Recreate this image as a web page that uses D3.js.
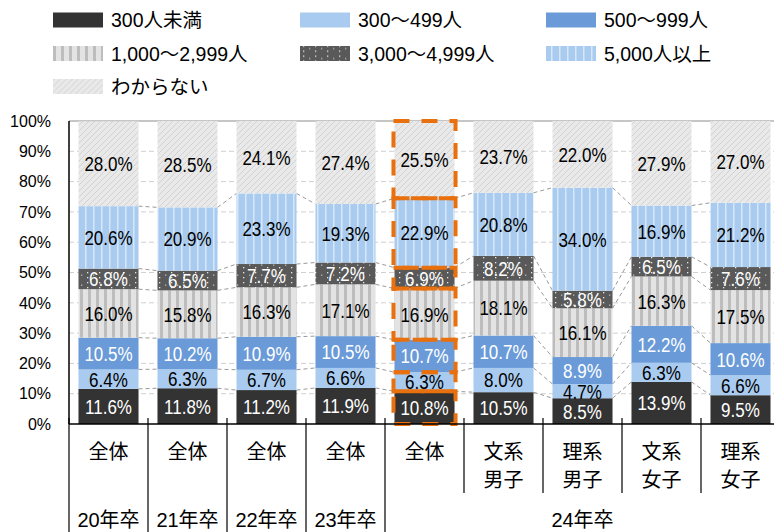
<!DOCTYPE html>
<html>
<head>
<meta charset="utf-8">
<script src="https://cdn.jsdelivr.net/npm/d3@7"></script>
<style>
    body { margin: 0; background: #fff; }
    text { font-family: "Liberation Sans", Arial, "Noto Sans CJK JP", sans-serif; fill: #000; }
    .datalabel { font-size: 20.5px; }
</style>
</head>
<body>
<div id="chart"></div>
<script>
// 企業規模別 - company size, by graduation year
var categories = ['20年卒全体', '21年卒全体', '22年卒全体', '23年卒全体', '24年卒全体', '文系男子', '理系男子', '文系女子', '理系女子'];
var catLabels = [['全体'], ['全体'], ['全体'], ['全体'], ['全体'], ['文系', '男子'], ['理系', '男子'], ['文系', '女子'], ['理系', '女子']];
var years = ['20年卒', '21年卒', '22年卒', '23年卒', '24年卒'];
var yearCount = [1, 1, 1, 1, 5];
var sizes = ['300人未満', '300～499人', '500～999人', '1,000～2,999人', '3,000～4,999人', '5,000人以上', 'わからない'];

var s300under = [11.6, 11.8, 11.2, 11.9, 10.8, 10.5, 8.5, 13.9, 9.5];
var s300to499 = [6.4, 6.3, 6.7, 6.6, 6.3, 8.0, 4.7, 6.3, 6.6];
var s500to999 = [10.5, 10.2, 10.9, 10.5, 10.7, 10.7, 8.9, 12.2, 10.6];
var s1000to2999 = [16.0, 15.8, 16.3, 17.1, 16.9, 18.1, 16.1, 16.3, 17.5];
var s3000to4999 = [6.8, 6.5, 7.7, 7.2, 6.9, 8.2, 5.8, 6.5, 7.6];
var s5000over = [20.6, 20.9, 23.3, 19.3, 22.9, 20.8, 34.0, 16.9, 21.2];
var sUnknown = [28.0, 28.5, 24.1, 27.4, 25.5, 23.7, 22.0, 27.9, 27.0];

var yTicks = [0, 10, 20, 30, 40, 50, 60, 70, 80, 90, 100];
var highlight = 4; // 24年卒 全体

var seriesValues = [s300under, s300to499, s500to999, s1000to2999, s3000to4999, s5000over, sUnknown];

// tabela para o d3.stack - table for d3.stack
var table = categories.map(function(c, i) {
    var row = {cat: c};
    sizes.forEach(function(s, j) { row[s] = seriesValues[j][i]; });
    return row;
});

var fills = ['#333333', '#a9cbef', '#6a9bd8', 'url(#pMid)', 'url(#pDots)', 'url(#pBig)', 'url(#pHatch)'];
var labelColor = ['#fff', '#000', '#fff', '#000', '#fff', '#000', '#000'];

var W = 774, H = 532;
var plotLeft = 69, plotTop = 121, plotBottom = 424;

var svg = d3
.select('#chart')
.append('svg')
.attr('width', W)
.attr('height', H)
;

// padroes - patterns
var defs = svg.append('defs');

var pMid = defs.append('pattern').attr('id', 'pMid').attr('patternUnits', 'userSpaceOnUse').attr('width', 8).attr('height', 8);
pMid.append('rect').attr('width', 8).attr('height', 8).attr('fill', '#e3e3e3');
pMid.append('rect').attr('x', 0).attr('width', 3).attr('height', 8).attr('fill', '#bdbdbd');

var pBig = defs.append('pattern').attr('id', 'pBig').attr('patternUnits', 'userSpaceOnUse').attr('width', 8).attr('height', 8);
pBig.append('rect').attr('width', 8).attr('height', 8).attr('fill', '#a9cbef');
pBig.append('rect').attr('x', 5).attr('width', 1.5).attr('height', 8).attr('fill', '#d8e7f8');

var pDots = defs.append('pattern').attr('id', 'pDots').attr('patternUnits', 'userSpaceOnUse').attr('width', 12).attr('height', 10);
pDots.append('rect').attr('width', 12).attr('height', 10).attr('fill', '#595959');
pDots.append('rect').attr('x', 3).attr('y', 2).attr('width', 1.3).attr('height', 1.3).attr('fill', '#e6e6e6');
pDots.append('rect').attr('x', 3).attr('y', 7).attr('width', 1.3).attr('height', 1.3).attr('fill', '#e6e6e6');
pDots.append('rect').attr('x', 9).attr('y', 4.5).attr('width', 1.3).attr('height', 1.3).attr('fill', '#bbbbbb');

var pHatch = defs.append('pattern').attr('id', 'pHatch').attr('patternUnits', 'userSpaceOnUse').attr('width', 6).attr('height', 6);
pHatch.append('rect').attr('width', 6).attr('height', 6).attr('fill', '#e9e9e9');
pHatch.append('path').attr('d', 'M-1,7 L7,-1 M-1,1 L1,-1 M5,7 L7,5').attr('stroke', '#d2d2d2').attr('stroke-width', 1);

// escalas - scales
var x = d3.scaleBand()
.domain(d3.range(categories.length))
.range([plotLeft, plotLeft + 79 * categories.length])
.paddingInner(0.24)
.paddingOuter(0.12)
;

var y = d3.scaleLinear()
.domain([0, 100])
.range([plotBottom, plotTop])
;

var bw = x.bandwidth();
var step = x.step();

// grade - gridlines
svg.append('g')
.selectAll('line')
.data(yTicks.filter(function(t) { return t > 0 && t < 100; }))
.enter()
.append('line')
.attr('x1', plotLeft)
.attr('x2', W)
.attr('y1', function(d) { return y(d); })
.attr('y2', function(d) { return y(d); })
.attr('stroke', '#d0d0d0')
.attr('stroke-dasharray', '5,3')
;

svg.append('line')
.attr('x1', plotLeft).attr('x2', W)
.attr('y1', y(100)).attr('y2', y(100))
.attr('stroke', '#8c8c8c')
;

var stack = d3.stack().keys(sizes);
var layers = stack(table);

// linhas de serie - series lines
var gLines = svg.append('g');
layers.slice(0, layers.length - 1).forEach(function(layer) {
    for (var i = 0; i < layer.length - 1; i++) {
        gLines.append('line')
        .attr('x1', x(i) + bw)
        .attr('x2', x(i + 1))
        .attr('y1', y(layer[i][1]))
        .attr('y2', y(layer[i + 1][1]))
        .attr('stroke', '#9a9a9a')
        .attr('stroke-dasharray', '4,3')
        ;
    }
});

// barras - bars
var g = svg
.selectAll('g.layer')
.data(layers)
.enter()
.append('g')
.attr('class', 'layer')
;

g.selectAll('rect')
.data(function(d, j) { return d.map(function(p) { p.j = j; return p; }); })
.enter()
.append('rect')
.attr('x', function(d, i) { return x(i); })
.attr('width', bw)
.attr('y', function(d) { return y(Math.min(d[1], 100)); })
.attr('height', function(d) { return y(d[0]) - y(Math.min(d[1], 100)); })
.attr('fill', function(d) { return fills[d.j]; })
;

// rotulos um pouco estreitos - slightly condensed labels
g.selectAll('text')
.data(function(d, j) { return d.map(function(p) { p.j = j; return p; }); })
.enter()
.append('text')
.attr('class', 'datalabel')
.attr('transform', function(d, i) {
    var cx = x(i) + bw / 2;
    var cy = (y(d[0]) + y(Math.min(d[1], 100))) / 2;
    return 'translate(' + cx + ',' + cy + ') scale(0.83,1)';
})
.attr('dy', '0.36em')
.attr('text-anchor', 'middle')
.style('fill', function(d) { return labelColor[d.j]; })
.text(function(d) { return (d[1] - d[0]).toFixed(1) + '%'; })
;

// destaque laranja - orange highlight on 24年卒 全体
svg.append('g')
.selectAll('rect')
.data(layers.map(function(l) { return l[highlight]; }))
.enter()
.append('rect')
.attr('x', x(highlight) - 1)
.attr('width', bw + 2)
.attr('y', function(d) { return y(Math.min(d[1], 100)); })
.attr('height', function(d) { return y(d[0]) - y(Math.min(d[1], 100)); })
.attr('fill', 'none')
.attr('stroke', '#e8700e')
.attr('stroke-width', 4)
.attr('stroke-dasharray', '16,12')
;

// eixo y - y axis
svg.append('g')
.selectAll('text')
.data(yTicks)
.enter()
.append('text')
.attr('x', 51)
.attr('y', function(d) { return y(d); })
.attr('dy', '0.36em')
.attr('text-anchor', 'end')
.style('font-size', '16px')
.text(function(d) { return d + '%'; })
;

svg.append('line')
.attr('x1', plotLeft).attr('x2', plotLeft)
.attr('y1', plotTop).attr('y2', plotBottom)
.attr('stroke', '#000').attr('stroke-width', 1.5)
;

svg.append('line')
.attr('x1', plotLeft).attr('x2', W)
.attr('y1', plotBottom).attr('y2', plotBottom)
.attr('stroke', '#000').attr('stroke-width', 1.5)
;

// divisores das categorias - category dividers
var yearStart = [];
var acc = 0;
yearCount.forEach(function(n) { yearStart.push(acc); acc += n; });

d3.range(categories.length + 1).forEach(function(i) {
    var full = yearStart.indexOf(i) >= 0;
    svg.append('line')
    .attr('x1', plotLeft + i * step).attr('x2', plotLeft + i * step)
    .attr('y1', plotBottom - 6)
    .attr('y2', full ? H : 493)
    .attr('stroke', '#000').attr('stroke-width', 1.2)
    ;
});

svg.append('g')
.selectAll('text')
.data(catLabels)
.enter()
.append('text')
.attr('text-anchor', 'middle')
.style('font-size', '20px')
.attr('x', function(d, i) { return x(i) + bw / 2; })
.attr('y', 459)
.each(function(d) {
    var t = d3.select(this);
    d.forEach(function(line, k) {
        t.append('tspan')
        .attr('x', t.attr('x'))
        .attr('dy', k === 0 ? 0 : 28)
        .text(line);
    });
})
;

svg.append('g')
.selectAll('text')
.data(years)
.enter()
.append('text')
.attr('text-anchor', 'middle')
.style('font-size', '20px')
.attr('x', function(d, i) { return plotLeft + (yearStart[i] + yearCount[i] / 2) * step; })
.attr('y', 527)
.text(function(d) { return d; })
;

// legenda - legend
var legX = [53, 300, 546];
var legY = [20, 53.5, 86.5];

var leg = svg.append('g')
.selectAll('g')
.data(sizes)
.enter()
.append('g')
.attr('transform', function(d, i) { return 'translate(' + legX[i % 3] + ',' + legY[Math.floor(i / 3)] + ')'; })
;

leg.append('rect')
.attr('x', 0).attr('y', -7.5)
.attr('width', 50).attr('height', 15)
.attr('fill', function(d, i) { return fills[i]; })
;

leg.append('text')
.attr('x', 58)
.attr('dy', '0.36em')
.style('font-size', '19.5px')
.text(function(d) { return d; })
;
</script>
</body>
</html>
